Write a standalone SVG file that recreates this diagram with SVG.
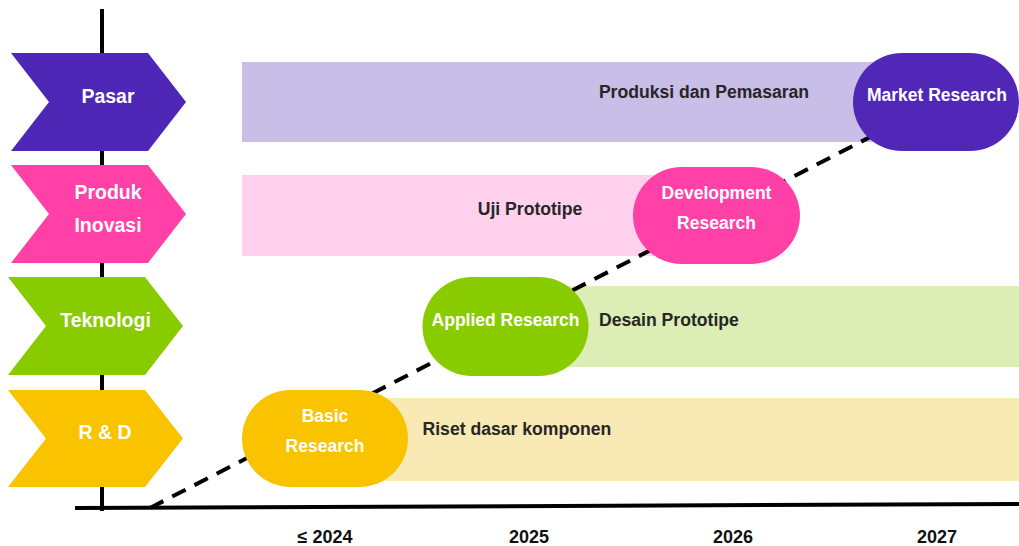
<svg xmlns="http://www.w3.org/2000/svg" width="1019" height="546" viewBox="0 0 1019 546">
<style>
text{font-family:"Liberation Sans",Arial,sans-serif;font-weight:bold}
.cw{fill:#ffffff;font-size:19.5px;text-anchor:middle}
.pw{fill:#ffffff;font-size:17.5px;text-anchor:middle}
.dk{fill:#262626;font-size:17.6px}
.yr{fill:#111111;font-size:18px;text-anchor:middle}
.axis{stroke:#000;stroke-width:4;fill:none}
.dash{stroke:#000;stroke-width:4;stroke-dasharray:15 10;fill:none}
</style>
<rect width="1019" height="546" fill="#ffffff"/>
<g id="bars">
<rect x="242" y="62" width="640" height="80" fill="#c8bee8"/>
<rect x="242" y="175" width="440" height="81" fill="#ffd1ec"/>
<rect x="540" y="286" width="479" height="81" fill="#dcedb5"/>
<rect x="360" y="398" width="659" height="83" fill="#f8e9b5"/>
</g>
<g id="axes">
<line class="axis" x1="102" y1="9" x2="102" y2="511"/>
<line class="axis" x1="75" y1="508" x2="1019" y2="504"/>
</g>
<g id="connectors">
<line class="dash" x1="150" y1="508" x2="876" y2="134"/>
</g>
<g id="chevron-pasar">
<polygon points="11,53 148,53 186,102 148,151 11,151 49,102" fill="#4e27b6"/>
<text class="cw" x="108" y="103">Pasar</text>
</g>
<g id="chevron-produk">
<polygon points="11,165 148,165 186,214 148,263 11,263 49,214" fill="#ff40a7"/>
<text class="cw" x="108" y="199">Produk</text>
<text class="cw" x="108" y="231.5">Inovasi</text>
</g>
<g id="chevron-teknologi">
<polygon points="8,277 145,277 183,326 145,375 8,375 46,326" fill="#88cc00"/>
<text class="cw" x="105.5" y="327">Teknologi</text>
</g>
<g id="chevron-rd">
<polygon points="8,390 145,390 183,438.5 145,487 8,487 46,438.5" fill="#f9c300"/>
<text class="cw" x="105" y="439">R &amp; D</text>
</g>
<g id="label-produksi">
<text class="dk" x="704" y="98" text-anchor="middle">Produksi dan Pemasaran</text>
</g>
<g id="label-uji">
<text class="dk" x="530" y="214.5" text-anchor="middle">Uji Prototipe</text>
</g>
<g id="label-desain">
<text class="dk" x="599" y="326">Desain Prototipe</text>
</g>
<g id="label-riset">
<text class="dk" x="422.5" y="435">Riset dasar komponen</text>
</g>
<g id="pill-market">
<rect x="853" y="53" width="166" height="98" rx="49" fill="#5127b8"/>
<text class="pw" x="937" y="101">Market Research</text>
</g>
<g id="pill-development">
<rect x="633" y="167" width="167" height="97" rx="48.5" fill="#ff40a7"/>
<text class="pw" x="716.5" y="199">Development</text>
<text class="pw" x="716.5" y="229">Research</text>
</g>
<g id="pill-applied">
<rect x="422.5" y="277" width="166" height="99" rx="49.5" fill="#88cc00"/>
<text class="pw" x="505.5" y="326">Applied Research</text>
</g>
<g id="pill-basic">
<rect x="242" y="390" width="166" height="97" rx="48.5" fill="#f9c300"/>
<text class="pw" x="325" y="422">Basic</text>
<text class="pw" x="325" y="452">Research</text>
</g>
<g id="years">
<text class="yr" x="325" y="543">≤ 2024</text>
<text class="yr" x="529" y="543">2025</text>
<text class="yr" x="733" y="543">2026</text>
<text class="yr" x="937" y="543">2027</text>
</g>
</svg>
